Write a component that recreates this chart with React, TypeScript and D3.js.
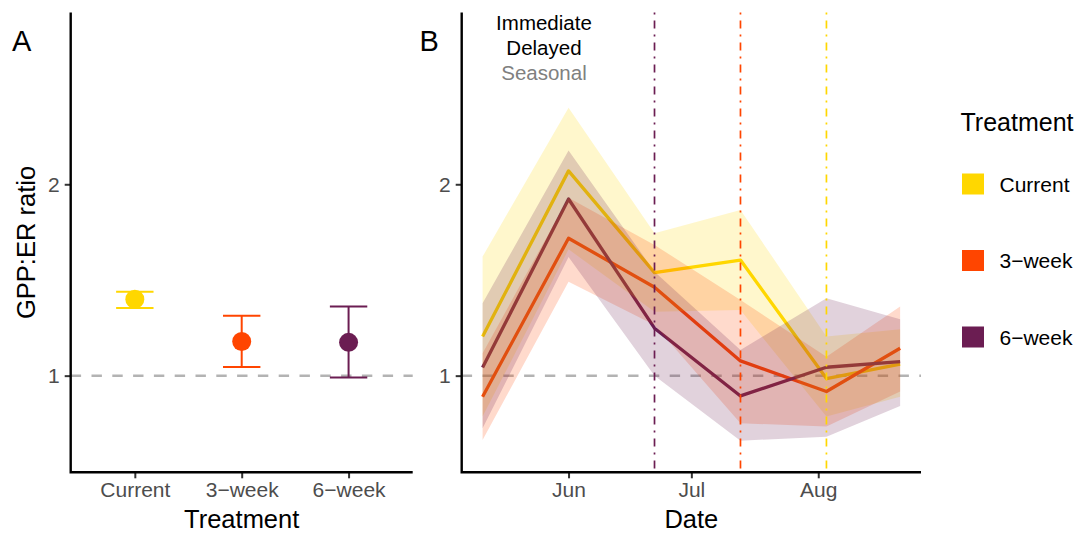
import { useEffect, useRef } from 'react';
import * as d3 from 'd3';

// Panel A: treatment summary
const treatments = ['Current', '3−week', '6−week'];
const treatmentColors = ['#FFD700', '#FF4500', '#6B1D52'];
const summaryMean = [1.399, 1.178, 1.174];
const summaryLow = [1.354, 1.045, 0.99];
const summaryHigh = [1.439, 1.313, 1.361];

// Panel B: time series
const sampleDates = ['2019-05-11', '2019-06-01', '2019-06-22', '2019-07-13', '2019-08-03', '2019-08-21'];
const currentMean = [1.204, 2.07, 1.538, 1.604, 0.985, 1.06];
const currentUpper = [1.622, 2.4, 1.744, 1.866, 1.204, 1.242];
const currentLower = [0.786, 1.66, 1.334, 1.343, 0.786, 0.89];
const week3Mean = [0.89, 1.718, 1.462, 1.077, 0.917, 1.143];
const week3Upper = [1.117, 1.93, 1.683, 1.395, 1.099, 1.361];
const week3Lower = [0.664, 1.491, 1.265, 0.751, 0.734, 0.917];
const week6Mean = [1.042, 1.923, 1.248, 0.894, 1.044, 1.073];
const week6Upper = [1.378, 2.176, 1.543, 1.134, 1.404, 1.295];
const week6Lower = [0.725, 1.62, 1.0, 0.66, 0.681, 0.842];

// end of each treatment (dot-dash lines)
const treatmentEnd = ['2019-08-03', '2019-07-13', '2019-06-22'];

const phaseLabels = ['Immediate', 'Delayed', 'Seasonal'];
const phaseColors = ['#000000', '#000000', '#808080'];

const yTicks = [1, 2];

const App = () => {
    const chartRef = useRef<SVGSVGElement>(null);

    useEffect(() => {
        if (chartRef.current) {
            createChart();
        }
    }, []);

    const createChart = () => {
        const svg = d3.select(chartRef.current);
        svg.selectAll('*').remove();

        const width = 1079;
        const height = 533;
        svg.attr('width', width).attr('height', height);

        const font = '"Liberation Sans", Arial, Helvetica, sans-serif';
        const top = 12.6;
        const bottom = 472.3;

        const yScale = d3.scaleLinear().domain([0.495, 2.897]).range([bottom, top]);

        const parse = d3.timeParse('%Y-%m-%d');
        const dates = sampleDates.map((d) => parse(d) as Date);

        const styleAxis = (g: any) => {
            g.select('.domain').remove();
            g.selectAll('.tick line').attr('stroke', '#333333').attr('stroke-width', 2);
            g.selectAll('.tick text').attr('fill', '#4d4d4d').style('font-size', '21px').style('font-family', font);
        };

        // ---------- Panel A ----------
        const aLeft = 70.7;
        const aRight = 412.7;
        const xA = d3.scalePoint<string>().domain(treatments).range([aLeft, aRight]).padding(0.6);
        const capHalf = xA.step() * 0.175;

        const gA = svg.append('g');

        gA.append('line')
            .attr('x1', aLeft)
            .attr('x2', aRight)
            .attr('y1', yScale(1))
            .attr('y2', yScale(1))
            .attr('stroke', '#b3b3b3')
            .attr('stroke-width', 2.5)
            .attr('stroke-dasharray', '10.4 10.4');

        treatments.forEach((t, i) => {
            const x = xA(t) || 0;
            const c = treatmentColors[i];
            gA.append('line')
                .attr('x1', x).attr('x2', x)
                .attr('y1', yScale(summaryLow[i])).attr('y2', yScale(summaryHigh[i]))
                .attr('stroke', c).attr('stroke-width', 2);
            [summaryLow[i], summaryHigh[i]].forEach((v) => {
                gA.append('line')
                    .attr('x1', x - capHalf).attr('x2', x + capHalf)
                    .attr('y1', yScale(v)).attr('y2', yScale(v))
                    .attr('stroke', c).attr('stroke-width', 2);
            });
            gA.append('circle')
                .attr('cx', x).attr('cy', yScale(summaryMean[i]))
                .attr('r', 9.5).attr('fill', c);
        });

        // axes A
        gA.append('g')
            .attr('transform', `translate(0, ${bottom})`)
            .call(d3.axisBottom(xA).tickSize(6).tickPadding(4))
            .call(styleAxis);
        gA.append('g')
            .attr('transform', `translate(${aLeft}, 0)`)
            .call(d3.axisLeft(yScale).tickValues(yTicks).tickFormat(d3.format('d')).tickSize(6).tickPadding(5))
            .call(styleAxis);
        gA.append('path')
            .attr('d', `M${aLeft},${top}V${bottom}H${aRight}`)
            .attr('fill', 'none').attr('stroke', '#000').attr('stroke-width', 2.4);

        gA.append('text')
            .attr('x', (aLeft + aRight) / 2).attr('y', 527.5)
            .attr('text-anchor', 'middle')
            .style('font-size', '25.5px').style('font-family', font)
            .text('Treatment');
        gA.append('text')
            .attr('transform', `translate(35, ${(top + bottom) / 2}) rotate(-90)`)
            .attr('text-anchor', 'middle')
            .style('font-size', '25.5px').style('font-family', font)
            .text('GPP:ER ratio');
        gA.append('text')
            .attr('x', 12).attr('y', 50.5)
            .style('font-size', '29px').style('font-family', font)
            .text('A');

        // ---------- Panel B ----------
        const bLeft = 461.7;
        const bRight = 921;
        const ext = d3.extent(dates) as [Date, Date];
        const pad = (ext[1].getTime() - ext[0].getTime()) * 0.05;
        const xB = d3.scaleTime()
            .domain([new Date(ext[0].getTime() - pad), new Date(ext[1].getTime() + pad)])
            .range([bLeft, bRight]);

        const gB = svg.append('g');

        gB.append('line')
            .attr('x1', bLeft).attr('x2', bRight)
            .attr('y1', yScale(1)).attr('y2', yScale(1))
            .attr('stroke', '#b3b3b3')
            .attr('stroke-width', 2.5)
            .attr('stroke-dasharray', '10.4 10.4');

        const series = [
            { mean: currentMean, upper: currentUpper, lower: currentLower },
            { mean: week3Mean, upper: week3Upper, lower: week3Lower },
            { mean: week6Mean, upper: week6Upper, lower: week6Lower },
        ];

        const line = d3.line<number>()
            .x((_, i) => xB(dates[i]))
            .y((d) => yScale(d));

        // lines first, ribbons drawn on top
        series.forEach((s, k) => {
            gB.append('path')
                .attr('d', line(s.mean))
                .attr('fill', 'none')
                .attr('stroke', treatmentColors[k])
                .attr('stroke-width', 3.3)
                .attr('stroke-linejoin', 'round');
        });
        series.forEach((s, k) => {
            const ribbon = d3.area<number>()
                .x((_, i) => xB(dates[i]))
                .y0((_, i) => yScale(s.lower[i]))
                .y1((d) => yScale(d));
            gB.append('path')
                .attr('d', ribbon(s.upper))
                .attr('fill', treatmentColors[k])
                .attr('fill-opacity', 0.2);
        });

        // end-of-treatment markers
        treatmentEnd.forEach((d, k) => {
            const x = xB(parse(d) as Date);
            gB.append('line')
                .attr('x1', x).attr('x2', x)
                .attr('y1', top).attr('y2', bottom)
                .attr('stroke', treatmentColors[k])
                .attr('stroke-width', 1.7)
                .attr('stroke-dasharray', '2 6 8 6');
        });

        // phase labels
        const labelX = xB(parse('2019-05-26') as Date);
        phaseLabels.forEach((p, i) => {
            gB.append('text')
                .attr('x', labelX).attr('y', 29.5 + i * 25.3)
                .attr('text-anchor', 'middle')
                .attr('fill', phaseColors[i])
                .style('font-size', '20.5px').style('font-family', font)
                .text(p);
        });

        gB.append('g')
            .attr('transform', `translate(0, ${bottom})`)
            .call(d3.axisBottom(xB).ticks(d3.timeMonth.every(1)).tickFormat(d3.timeFormat('%b') as any).tickSize(6).tickPadding(4))
            .call(styleAxis);
        gB.append('g')
            .attr('transform', `translate(${bLeft}, 0)`)
            .call(d3.axisLeft(yScale).tickValues(yTicks).tickFormat(d3.format('d')).tickSize(6).tickPadding(5))
            .call(styleAxis);
        gB.append('path')
            .attr('d', `M${bLeft},${top}V${bottom}H${bRight}`)
            .attr('fill', 'none').attr('stroke', '#000').attr('stroke-width', 2.4);

        gB.append('text')
            .attr('x', (bLeft + bRight) / 2).attr('y', 527.5)
            .attr('text-anchor', 'middle')
            .style('font-size', '25.5px').style('font-family', font)
            .text('Date');
        gB.append('text')
            .attr('x', 419.5).attr('y', 50.5)
            .style('font-size', '29px').style('font-family', font)
            .text('B');

        // ---------- Legend ----------
        const gL = svg.append('g');
        gL.append('text')
            .attr('x', 960.5).attr('y', 130.7)
            .style('font-size', '25px').style('font-family', font)
            .text('Treatment');
        treatments.forEach((t, i) => {
            const cy = 184 + i * 76.5;
            gL.append('rect')
                .attr('x', 962).attr('y', cy - 10.5)
                .attr('width', 22).attr('height', 21)
                .attr('fill', treatmentColors[i]);
            gL.append('text')
                .attr('x', 999.5).attr('y', cy)
                .attr('dy', '0.36em')
                .style('font-size', '21px').style('font-family', font)
                .text(t);
        });
    };

    return <svg ref={chartRef} style={{ position: 'absolute', left: 0, top: 0, background: '#fff' }} />;
};

export default App;
